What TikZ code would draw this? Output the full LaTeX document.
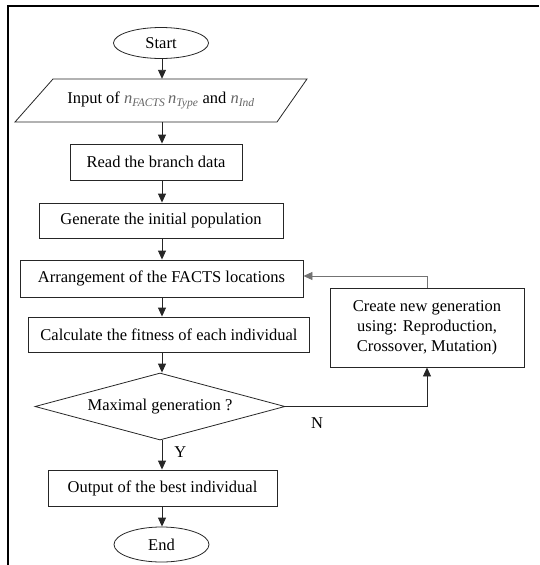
\documentclass[tikz,border=0pt]{standalone}
\usepackage{fontspec}
\setmainfont{Liberation Serif}
\usetikzlibrary{shapes.geometric,arrows.meta,calc}
\begin{document}
\begin{tikzpicture}[x=1pt,y=-1pt,
  every node/.style={font=\fontsize{16.5}{20}\selectfont, inner sep=0pt},
  procbox/.style={draw=black!85, line width=0.9pt, rectangle, align=center},
  term/.style={draw=black!85, line width=0.8pt, ellipse, minimum width=95pt, minimum height=31pt},
  arr/.style={draw=black!85, line width=0.9pt, -{Triangle[length=9pt,width=8pt]}},
  fb/.style={draw=black!55, line width=0.9pt, -{Triangle[length=9pt,width=8pt]}},
  lbl/.style={font=\fontsize{16.5}{20}\selectfont}
]
\useasboundingbox (0,0) rectangle (539,565);
% outer frame (top and left)
\draw[line width=2.4pt, black] (539,6) -- (8,6) -- (8,565);

\node[term] (start) at (161,43) {Start};
\node[minimum width=254pt, minimum height=43pt] (input) at (161,100.5)
  {Input of \textcolor{black!60}{\textit{n}\textsubscript{\textit{FACTS}}\,\textit{n}\textsubscript{\textit{Type}}} and \textcolor{black!60}{\textit{n}\textsubscript{\textit{Ind}}}};
\draw[black!85, line width=0.8pt] (53,79) -- (307,79) -- (277,122) -- (15,122) -- cycle;
\node[procbox, minimum width=172pt, minimum height=36pt] (read) at (156,162) {Read the branch data};
\node[procbox, minimum width=244pt, minimum height=35pt] (gen) at (161,220.5) {Generate the initial population};
\node[procbox, minimum width=283pt, minimum height=37pt] (arrg) at (161.5,278.5) {Arrangement of the FACTS locations};
\node[procbox, minimum width=281pt, minimum height=35pt] (calc) at (169,334.5) {Calculate the fitness of each individual};
\node[draw=black!85, line width=0.8pt, diamond, minimum width=250pt, minimum height=67pt, aspect=3.73] (dec) at (160,406.5) {Maximal generation ?};
\node[procbox, minimum width=229pt, minimum height=36pt] (out) at (162.5,488) {Output of the best individual};
\node[term, minimum height=35pt] (end) at (161.5,544.5) {End};
\node[procbox, minimum width=194pt, minimum height=79pt] (create) at (427,327.5)
  {Create new generation\\using: Reproduction,\\Crossover, Mutation)};

\coordinate (col) at (162,0);
\draw[arr] (start.south -| col) -- (input.north -| col);
\draw[arr] (input.south -| col) -- (read.north -| col);
\draw[arr] (read.south -| col) -- (gen.north -| col);
\draw[arr] (gen.south -| col) -- (arrg.north -| col);
\draw[arr] (arrg.south -| col) -- (calc.north -| col);
\draw[arr] (calc.south -| col) -- (dec.north -| col);
\draw[arr] (dec.south -| col) -- node[lbl, right=12pt, pos=0.4] (ylab) {Y} (out.north -| col);
\draw[arr] (out.south -| col) -- (end.north -| col);
\draw[arr] (dec.east) -| (create.south);
\draw[fb] (create.north) |- ($(arrg.east)+(0,-2.5)$);
\node[lbl] (nlab) at (317,423) {N};
\end{tikzpicture}
\end{document}
